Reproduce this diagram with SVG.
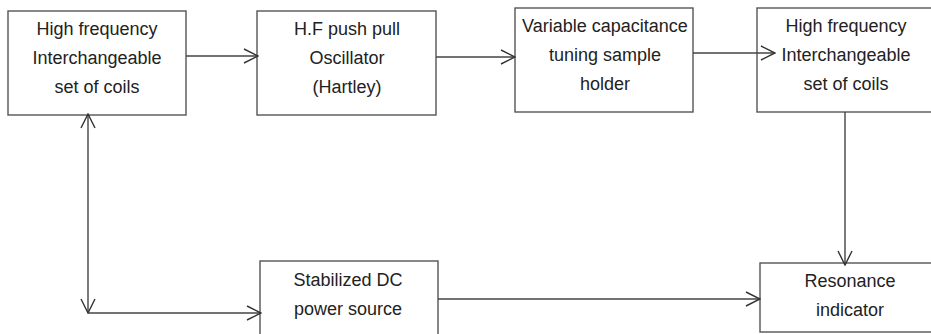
<svg xmlns="http://www.w3.org/2000/svg" width="931" height="334" viewBox="0 0 931 334">
<defs>
<style>
.box{fill:#fff;stroke:#555;stroke-width:1.4}
.lbl{font-family:"Liberation Sans",Arial,sans-serif;font-size:18px;fill:#222;text-anchor:middle}
.con{fill:none;stroke:#444;stroke-width:1.4}
</style>
<marker id="ah" viewBox="0 0 16 16" markerWidth="16" markerHeight="16" refX="15" refY="8" orient="auto-start-reverse" markerUnits="userSpaceOnUse">
<path d="M1,1 L15,8 L1,15" fill="none" stroke="#333" stroke-width="1.4"/>
</marker>
</defs>
<rect width="931" height="334" fill="#fff"/>
<g id="n1"><rect class="box" x="8" y="11" width="178" height="104"/>
<text class="lbl" x="97" y="35">High frequency</text><text class="lbl" x="97" y="64">Interchangeable</text><text class="lbl" x="97" y="93">set of coils</text></g>
<g id="n2"><rect class="box" x="257" y="11" width="179" height="104"/>
<text class="lbl" x="347" y="35">H.F push pull</text><text class="lbl" x="347" y="64">Oscillator</text><text class="lbl" x="347" y="93">(Hartley)</text></g>
<g id="n3"><rect class="box" x="515" y="8" width="178" height="104"/>
<text class="lbl" x="605" y="32">Variable capacitance</text><text class="lbl" x="605" y="61">tuning sample</text><text class="lbl" x="605" y="90">holder</text></g>
<g id="n4"><rect class="box" x="757" y="8" width="190" height="104"/>
<text class="lbl" x="846" y="32">High frequency</text><text class="lbl" x="846" y="61">Interchangeable</text><text class="lbl" x="846" y="90">set of coils</text></g>
<g id="n5"><rect class="box" x="260" y="261" width="178" height="90"/>
<text class="lbl" x="348" y="286">Stabilized DC</text><text class="lbl" x="348" y="315">power source</text></g>
<g id="n6"><rect class="box" x="760" y="263" width="190" height="69"/>
<text class="lbl" x="850" y="287">Resonance</text><text class="lbl" x="850" y="316">indicator</text></g>
<g id="connectors">
<path class="con" d="M186,56 H258" marker-end="url(#ah)"/>
<path class="con" d="M436,57 H515" marker-end="url(#ah)"/>
<path class="con" d="M693,53 H775" marker-end="url(#ah)"/>
<path class="con" d="M845,112 V265" marker-end="url(#ah)"/>
<path class="con" d="M88,114 V313" marker-start="url(#ah)" marker-end="url(#ah)"/>
<path class="con" d="M88,313 H261" marker-end="url(#ah)"/>
<path class="con" d="M438,299 H760" marker-end="url(#ah)"/>
</g>
</svg>
